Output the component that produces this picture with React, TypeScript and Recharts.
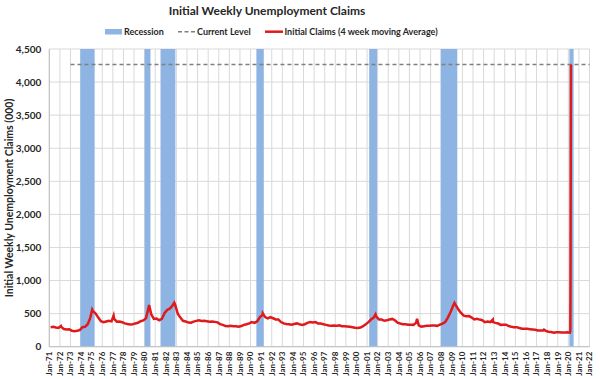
import React from "react";
import {
  ComposedChart,
  Line,
  XAxis,
  YAxis,
  CartesianGrid,
  ReferenceArea,
  ReferenceLine,
} from "recharts";

// ---------- DATA ----------
const TITLE = "Initial Weekly Unemployment Claims";
const Y_LABEL = "Initial Weekly Unemployment Claims (000)";
const legendLabels = ["Recession", "Current Level", "Initial Claims (4 week moving Average)"];

const firstYear = 1971;
const lastYear = 2022;
const yTicks = [0, 500, 1000, 1500, 2000, 2500, 3000, 3500, 4000, 4500];

// 4-week moving average of initial claims (000), one value per quarter, 1971..2019
const quarterlyClaims: number[][] = [
  [295, 300, 290, 285], // 1971
  [300, 268, 260, 265], // 1972
  [242, 235, 240, 252], // 1973
  [295, 300, 340, 440], // 1974
  [535, 500, 440, 385], // 1975
  [370, 380, 390, 382], // 1976
  [420, 378, 380, 370], // 1977
  [352, 342, 335, 340], // 1978
  [352, 362, 385, 398], // 1979
  [430, 590, 490, 420], // 1980
  [425, 400, 420, 505], // 1981
  [555, 575, 620, 640], // 1982
  [500, 440, 392, 382], // 1983
  [365, 362, 380, 390], // 1984
  [400, 390, 392, 385], // 1985
  [378, 382, 375, 368], // 1986
  [342, 330, 312, 310], // 1987
  [318, 310, 310, 302], // 1988
  [312, 330, 340, 352], // 1989
  [372, 360, 385, 445], // 1990
  [480, 448, 428, 448], // 1991
  [430, 412, 410, 372], // 1992
  [352, 342, 340, 332], // 1993
  [342, 352, 340, 330], // 1994
  [340, 360, 372, 365], // 1995
  [372, 352, 350, 340], // 1996
  [330, 320, 316, 320], // 1997
  [315, 322, 310, 310], // 1998
  [305, 300, 295, 286], // 1999
  [282, 290, 310, 338], // 2000
  [372, 410, 440, 455], // 2001
  [410, 410, 392, 400], // 2002
  [410, 420, 400, 362], // 2003
  [350, 340, 340, 332], // 2004
  [332, 330, 360, 322], // 2005
  [302, 310, 315, 316], // 2006
  [320, 320, 315, 335], // 2007
  [350, 372, 440, 520], // 2008
  [620, 630, 560, 510], // 2009
  [470, 460, 462, 440], // 2010
  [412, 422, 410, 400], // 2011
  [370, 380, 372, 372], // 2012
  [360, 350, 330, 332], // 2013
  [332, 312, 300, 295], // 2014
  [295, 282, 272, 270], // 2015
  [270, 265, 260, 255], // 2016
  [246, 245, 245, 240], // 2017
  [226, 222, 213, 220], // 2018
  [218, 215, 213, 220], // 2019
];

// notable peaks / spikes (decimal year, value)
const peakTimes = [1972.1, 1975.05, 1977.07, 1980.42, 1982.8, 1991.15, 2001.8, 2005.72, 2009.25, 2012.87, 2017.7];
const peakValues = [312, 560, 470, 630, 665, 505, 490, 420, 662, 410, 258];

// 2020 (decimal year, value)
const times2020 = [2020.05, 2020.15, 2020.19, 2020.21, 2020.23, 2020.25];
const values2020 = [215, 212, 232, 998, 2667, 4265];

// recessions (start, end) in decimal years
const recessionStarts = [1973.92, 1980.0, 1981.5, 1990.55, 2001.2, 2007.95, 2020.1];
const recessionEnds = [1975.28, 1980.55, 1982.9, 1991.25, 2001.95, 2009.52, 2020.5];

const currentLevel = 4265;
const currentLevelStart = 1973.0;
const currentLevelEnd = 2022.0;

// ---------- BUILD TABLE ----------
type Pt = { t: number; v: number };
const claimData: Pt[] = [];
quarterlyClaims.forEach((qs, i) => {
  qs.forEach((v, q) => claimData.push({ t: firstYear + i + (q + 0.5) / 4, v }));
});
peakTimes.forEach((t, i) => claimData.push({ t, v: peakValues[i] }));
times2020.forEach((t, i) => claimData.push({ t, v: values2020[i] }));
claimData.sort((a, b) => a.t - b.t);

const xTicks: number[] = [];
for (let y = firstYear; y <= lastYear; y++) xTicks.push(y);

const fmtYear = (y: number) => "Jan-" + String(y % 100).padStart(2, "0");

// ---------- STYLE ----------
const FONT = "Lato, 'Open Sans', sans-serif";
const RED = "#E0191A";
const BLUE = "#8DB4E2";
const GRID = "#D9D9D9";
const TEXT = "#262626";

const XTick = (props: any) => {
  const { x, y, payload } = props;
  return (
    <text
      x={x}
      y={y}
      transform={`rotate(-90 ${x} ${y})`}
      textAnchor="end"
      dy="0.35em"
      fontSize={8}
      fontWeight={700}
      fontFamily={FONT}
      fill={TEXT}
    >
      {fmtYear(payload.value)}
    </text>
  );
};

export default function App() {
  return (
    <div style={{ position: "absolute", left: 0, top: 0, width: 600, height: 379, background: "#fff" }}>
      <ComposedChart
        width={600}
        height={379}
        data={claimData}
        margin={{ top: 49, right: 10.5, bottom: 0, left: 0 }}
        style={{ position: "absolute", left: 0, top: 0 }}
      >
        <CartesianGrid stroke={GRID} strokeWidth={1} />
        {recessionStarts.map((s, i) => (
          <ReferenceArea
            key={i}
            x1={s}
            x2={recessionEnds[i]}
            y1={0}
            y2={4500}
            fill={BLUE}
            fillOpacity={1}
            stroke="none"
          />
        ))}
        <XAxis
          dataKey="t"
          type="number"
          domain={[firstYear, lastYear]}
          ticks={xTicks}
          interval={0}
          height={32.3}
          tickLine={false}
          tickSize={0}
          tickMargin={5}
          axisLine={{ stroke: "#BFBFBF" }}
          tick={<XTick />}
          allowDataOverflow
        />
        <YAxis
          type="number"
          domain={[0, 4500]}
          ticks={yTicks}
          width={49.3}
          tickLine={false}
          axisLine={{ stroke: "#BFBFBF" }}
          tickFormatter={(v: number) => v.toLocaleString("en-US")}
          tick={{ fontSize: 10, fontWeight: 700, fontFamily: FONT, fill: TEXT }}
          allowDataOverflow
        />
        <ReferenceLine
          segment={[
            { x: currentLevelStart, y: currentLevel },
            { x: currentLevelEnd, y: currentLevel },
          ]}
          stroke="#7F7F7F"
          strokeWidth={1.5}
          strokeDasharray="4 3"
        />
        <Line
          dataKey="v"
          type="linear"
          stroke={RED}
          strokeWidth={2.5}
          dot={false}
          isAnimationActive={false}
        />
      </ComposedChart>
      <svg
        width={600}
        height={379}
        style={{ position: "absolute", left: 0, top: 0, pointerEvents: "none" }}
      >
        <text x={267} y={14.5} textAnchor="middle" fontSize={12} fontWeight={700} fontFamily={FONT} fill={TEXT}>
          {TITLE}
        </text>
        <rect x={105} y={29} width={17} height={5.5} fill={BLUE} />
        <text x={124} y={35} fontSize={9} fontWeight={700} fontFamily={FONT} fill={TEXT}>
          {legendLabels[0]}
        </text>
        <line x1={178} y1={31.7} x2={195} y2={31.7} stroke="#7F7F7F" strokeWidth={1.5} strokeDasharray="4 2.5" />
        <text x={197} y={35} fontSize={9} fontWeight={700} fontFamily={FONT} fill={TEXT}>
          {legendLabels[1]}
        </text>
        <line x1={265} y1={31.7} x2={283} y2={31.7} stroke={RED} strokeWidth={2.5} />
        <text x={284.5} y={35} fontSize={9} fontWeight={700} fontFamily={FONT} fill={TEXT}>
          {legendLabels[2]}
        </text>
        <text
          x={13}
          y={198}
          transform="rotate(-90 13 198)"
          textAnchor="middle"
          fontSize={10.5}
          fontWeight={700}
          fontFamily={FONT}
          fill={TEXT}
        >
          {Y_LABEL}
        </text>
      </svg>
    </div>
  );
}
